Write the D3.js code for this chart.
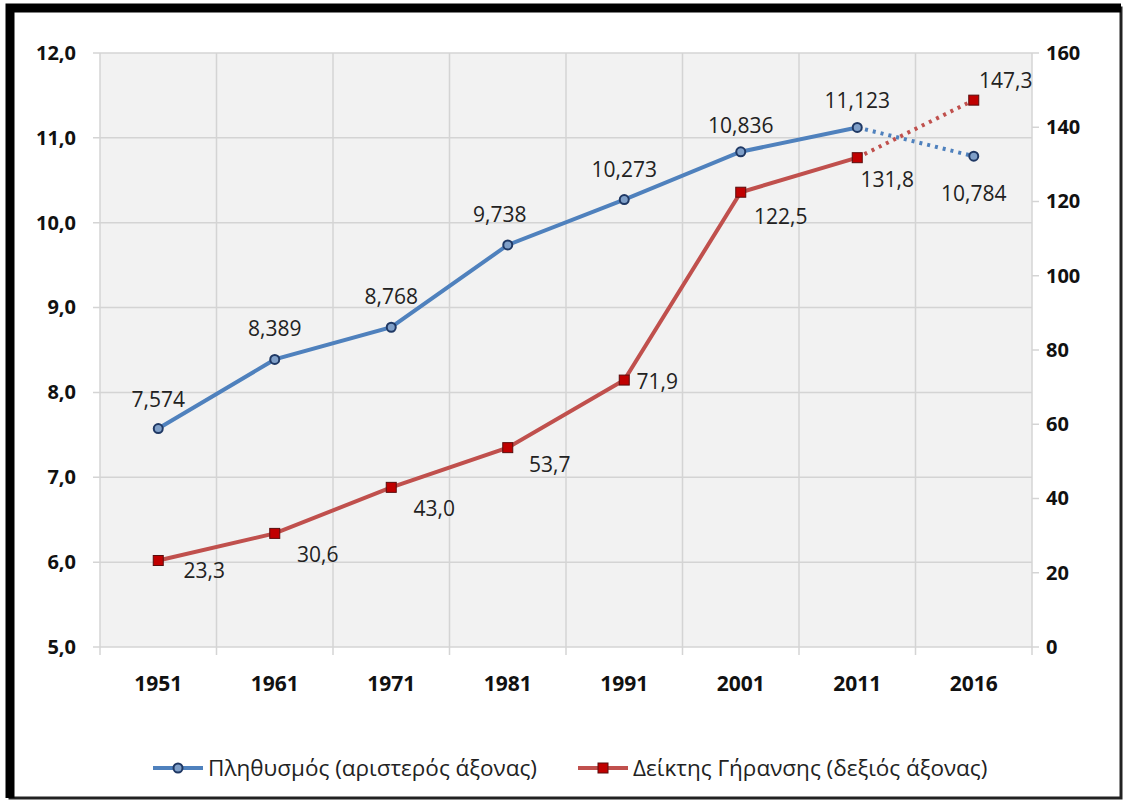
<!DOCTYPE html>
<html>
<head>
<meta charset="utf-8">
<script src="https://cdn.jsdelivr.net/npm/d3@7"></script>
<style>
  body { margin: 0; background: #fff; }
  svg { display: block; font-family: "Open Sans", "Noto Sans", sans-serif; }
</style>
</head>
<body>
<svg id="drawing_region"></svg>
<script>
// data
const years = ["1951", "1961", "1971", "1981", "1991", "2001", "2011", "2016"];
const population = [7.574, 8.389, 8.768, 9.738, 10.273, 10.836, 11.123, 10.784];
const popLabels = ["7,574", "8,389", "8,768", "9,738", "10,273", "10,836", "11,123", "10,784"];
const ageing = [23.3, 30.6, 43.0, 53.7, 71.9, 122.5, 131.8, 147.3];
const ageLabels = ["23,3", "30,6", "43,0", "53,7", "71,9", "122,5", "131,8", "147,3"];
const leftTicks = [5, 6, 7, 8, 9, 10, 11, 12];
const rightTicks = [0, 20, 40, 60, 80, 100, 120, 140, 160];
const legendNames = ["Πληθυσμός (αριστερός άξονας)", "Δείκτης Γήρανσης (δεξιός άξονας)"];

const W = 1125, H = 805;
const margin = {top: 53, right: 93, bottom: 158, left: 100};
const inner_width = W - margin.left - margin.right;
const inner_height = H - margin.top - margin.bottom;

const blue = "#4f81bd", red = "#c0504d";

const svg = d3.select("#drawing_region").attr("width", W).attr("height", H);

// frame
svg.append("rect").attr("x", 0).attr("y", 0).attr("width", W).attr("height", H).attr("fill", "#fff");
svg.append("rect").attr("x", 10).attr("y", 8).attr("width", 1111).attr("height", 790)
  .attr("fill", "none").attr("stroke", "#222").attr("stroke-width", 3);
svg.append("path").attr("d", "M10,798 V8 H1121")
  .attr("fill", "none").attr("stroke", "#000").attr("stroke-width", 9);

const chart = svg.append("g").attr("transform", `translate(${margin.left},${margin.top})`);

const xscale = d3.scaleBand().domain(years).range([0, inner_width]);
const ylscale = d3.scaleLinear().domain([5, 12]).range([inner_height, 0]);
const yrscale = d3.scaleLinear().domain([0, 160]).range([inner_height, 0]);

chart.append("rect").attr("width", inner_width).attr("height", inner_height).attr("fill", "#f2f2f2");

// grid
chart.append("g").selectAll("line").data(leftTicks).join("line")
  .attr("x1", -7).attr("x2", inner_width)
  .attr("y1", d => ylscale(d)).attr("y2", d => ylscale(d))
  .attr("stroke", "#d4d4d4").attr("stroke-width", 1.5);
chart.append("g").selectAll("line").data(d3.range(years.length + 1)).join("line")
  .attr("x1", i => i * xscale.step()).attr("x2", i => i * xscale.step())
  .attr("y1", 0).attr("y2", inner_height + 8)
  .attr("stroke", "#d4d4d4").attr("stroke-width", 1.5);
// right axis ticks
chart.append("g").selectAll("line").data(rightTicks).join("line")
  .attr("x1", inner_width).attr("x2", inner_width + 7)
  .attr("y1", d => yrscale(d)).attr("y2", d => yrscale(d))
  .attr("stroke", "#d4d4d4").attr("stroke-width", 1.5);

// axes labels
const yaxisL = d3.axisLeft(ylscale).tickValues(leftTicks).tickSize(0).tickPadding(24)
  .tickFormat(d => d3.format(".1f")(d).replace(".", ","));
const gl = chart.append("g").call(yaxisL);
const yaxisR = d3.axisRight(yrscale).tickValues(rightTicks).tickSize(0).tickPadding(14);
const gr = chart.append("g").attr("transform", `translate(${inner_width},0)`).call(yaxisR);
const xaxis = d3.axisBottom(xscale).tickSize(0).tickPadding(29);
const gx = chart.append("g").attr("transform", `translate(0,${inner_height})`).call(xaxis);
[gl, gr, gx].forEach(g => {
  g.select(".domain").remove();
  g.selectAll("text").attr("font-size", 20).attr("font-weight", "bold")
    .attr("fill", "#111").attr("font-family", "'Open Sans', sans-serif");
});
gx.selectAll("text").attr("font-size", 21);

const cx = (d, i) => xscale(years[i]) + xscale.bandwidth() / 2;
const idx = d3.range(years.length);
const solid = idx.slice(0, 7), dotted = idx.slice(6);

function drawSeries(vals, yscale, color) {
  const line = d3.line().x(i => cx(null, i)).y(i => yscale(vals[i]));
  chart.append("path").datum(solid).attr("d", line)
    .attr("fill", "none").attr("stroke", color).attr("stroke-width", 4);
  chart.append("path").datum(dotted).attr("d", line)
    .attr("fill", "none").attr("stroke", color).attr("stroke-width", 4)
    .attr("stroke-dasharray", "3,5").attr("stroke-linecap", "butt");
}
drawSeries(population, ylscale, blue);
drawSeries(ageing, yrscale, red);

// markers
chart.append("g").selectAll("circle").data(population).join("circle")
  .attr("cx", cx).attr("cy", d => ylscale(d)).attr("r", 4.5)
  .attr("fill", "#7f9fc8").attr("stroke", "#1f3864").attr("stroke-width", 2);
chart.append("g").selectAll("rect").data(ageing).join("rect")
  .attr("x", (d, i) => cx(d, i) - 5).attr("y", d => yrscale(d) - 5)
  .attr("width", 10).attr("height", 10)
  .attr("fill", "#c00000").attr("stroke", "#5a0d0d").attr("stroke-width", 1);

// data labels
const popOffset = [[0, -29], [0, -30], [0, -30], [-8, -30], [0, -30], [0, -26], [0, -26], [0, 38]];
chart.append("g").selectAll("text").data(population).join("text")
  .attr("x", (d, i) => cx(d, i) + popOffset[i][0])
  .attr("y", (d, i) => ylscale(d) + popOffset[i][1] + 7)
  .attr("text-anchor", "middle").attr("font-size", 21).attr("fill", "#222")
  .text((d, i) => popLabels[i]);
const ageOffset = [[46, 11], [43, 22], [43, 22], [42, 17], [33, 2], [40, 25], [30, 22], [32, -19]];
chart.append("g").selectAll("text").data(ageing).join("text")
  .attr("x", (d, i) => cx(d, i) + ageOffset[i][0])
  .attr("y", (d, i) => yrscale(d) + ageOffset[i][1] + 7)
  .attr("text-anchor", "middle").attr("font-size", 21).attr("fill", "#222")
  .text((d, i) => ageLabels[i]);

// legend
const legend = svg.append("g").attr("transform", "translate(0,768)");
const legendItems = [
  {x: 153, color: blue, name: legendNames[0], shape: "circle"},
  {x: 578, color: red, name: legendNames[1], shape: "rect"}
];
legendItems.forEach(it => {
  const g = legend.append("g").attr("transform", `translate(${it.x},0)`);
  g.append("line").attr("x1", 0).attr("x2", 50).attr("stroke", it.color).attr("stroke-width", 4);
  if (it.shape === "circle") {
    g.append("circle").attr("cx", 25).attr("r", 4.5)
      .attr("fill", "#7f9fc8").attr("stroke", "#1f3864").attr("stroke-width", 2);
  } else {
    g.append("rect").attr("x", 20).attr("y", -5).attr("width", 10).attr("height", 10)
      .attr("fill", "#c00000").attr("stroke", "#5a0d0d");
  }
  g.append("text").attr("x", 55).attr("y", 8).attr("font-size", 22.5).attr("fill", "#222")
    .text(it.name);
});
</script>
</body>
</html>
